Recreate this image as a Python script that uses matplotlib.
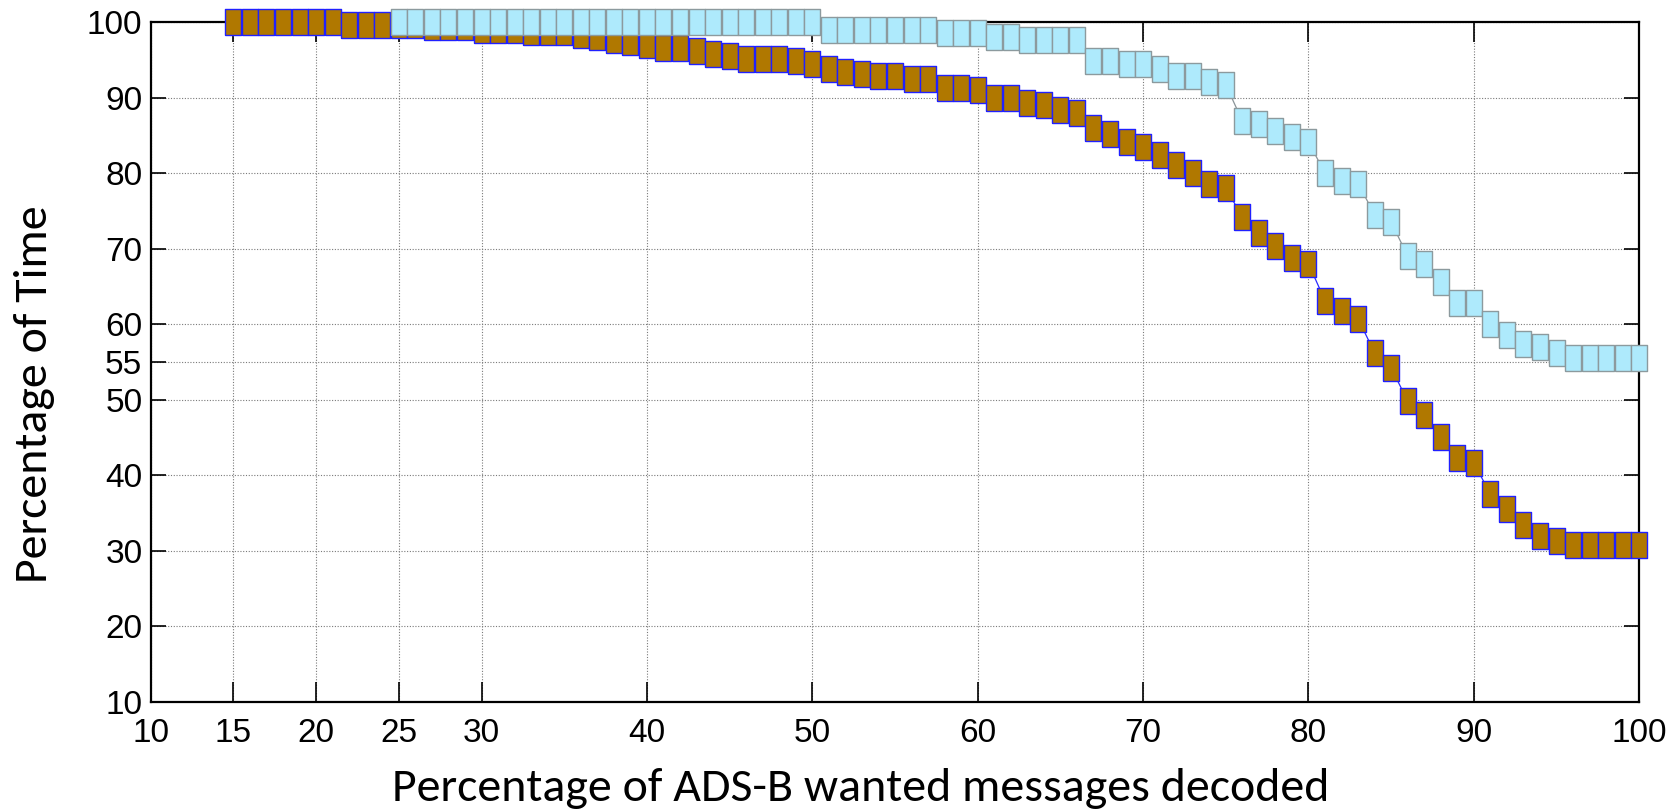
import matplotlib
matplotlib.use("Agg")
import matplotlib.pyplot as plt
from matplotlib import font_manager

# ---------------- data ----------------
x_brown = list(range(15, 101))
y_brown = [100, 100, 100, 100, 100, 100, 100,          # 15-21
           99.6, 99.6, 99.6, 99.6, 99.6,               # 22-26
           99.3, 99.3, 99.3,                           # 27-29
           99.0, 99.0, 99.0,                           # 30-32
           98.7, 98.7, 98.7,                           # 33-35
           98.3, 98.0, 97.6, 97.3, 96.9,               # 36-40
           96.6, 96.6, 96.2, 95.8, 95.5,               # 41-45
           95.1, 95.1, 95.1, 94.8, 94.4,               # 46-50
           93.8, 93.4, 93.1, 92.8, 92.8,               # 51-55
           92.4, 92.4, 91.3, 91.3, 91.0,               # 56-60
           90.0, 90.0, 89.3, 89.0, 88.3,               # 61-65
           88.0, 85.9, 85.2, 84.1, 83.5,               # 66-70
           82.4, 81.1, 80.0, 78.6, 78.0,               # 71-75
           74.2, 72.1, 70.4, 68.7, 68.0,               # 76-80
           63.1, 61.7, 60.7, 56.2, 54.2,               # 81-85
           49.8, 48.0, 45.0, 42.2, 41.6,               # 86-90
           37.5, 35.5, 33.4, 32.0, 31.3,               # 91-95
           30.7, 30.7, 30.7, 30.7, 30.7]               # 96-100

x_blue = list(range(25, 101))
y_blue = [100, 100, 100, 100, 100, 100, 100, 100, 100, 100,   # 25-34
          100, 100, 100, 100, 100, 100, 100, 100, 100, 100,   # 35-44
          100, 100, 100, 100, 100, 100,                       # 45-50
          99.0, 99.0, 99.0, 99.0, 99.0, 99.0, 99.0,           # 51-57
          98.6, 98.6, 98.6,                                   # 58-60
          98.0, 98.0,                                         # 61-62
          97.6, 97.6, 97.6, 97.6,                             # 63-66
          94.8, 94.8, 94.4, 94.4, 93.8,                       # 67-71
          92.8, 92.8, 92.0, 91.7,                             # 72-75
          86.9, 86.5, 85.5, 84.8, 84.1,                       # 76-80
          80.0, 79.0, 78.6, 74.5, 73.5,                       # 81-85
          69.0, 68.0, 65.6, 62.8, 62.8,                       # 86-90
          60.0, 58.6, 57.3, 56.9, 56.2,                       # 91-95
          55.5, 55.5, 55.5, 55.5, 55.5]                       # 96-100

x_ticks = [10, 15, 20, 25, 30, 40, 50, 60, 70, 80, 90, 100]
y_ticks = [10, 20, 30, 40, 50, 55, 60, 70, 80, 90, 100]

x_label = "Percentage of ADS-B wanted messages decoded"
y_label = "Percentage of Time"

# ---------------- fonts ----------------
def pick(names):
    for n in names:
        try:
            font_manager.findfont(n, fallback_to_default=False)
            return n
        except Exception:
            pass
    return "DejaVu Sans"

tick_font = pick(["Liberation Sans Narrow", "Liberation Sans", "DejaVu Sans"])
label_font = pick(["Carlito", "Lato", "Open Sans", "DejaVu Sans"])

# ---------------- figure ----------------
fig = plt.figure(figsize=(16.71, 8.11), dpi=100)
ax = fig.add_axes([0.0902, 0.1348, 0.8908, 0.8381])

rect = [(-0.64, -1), (0.64, -1), (0.64, 1), (-0.64, 1), (-0.64, -1)]

ax.plot(x_brown, y_brown, color="#2a2aff", lw=0.9,
        marker=rect, markersize=18.2, markerfacecolor="#b07800",
        markeredgecolor="#2020ff", markeredgewidth=1.0, zorder=3,
        clip_on=False)
ax.plot(x_blue, y_blue, color="#8a9498", lw=0.9,
        marker=rect, markersize=18.2, markerfacecolor="#aeeafc",
        markeredgecolor="#8c9a9e", markeredgewidth=1.0, zorder=4,
        clip_on=False)

ax.set_xlim(10, 100)
ax.set_ylim(10, 100)
ax.set_xticks(x_ticks)
ax.set_yticks(y_ticks)
ax.set_xticklabels([str(v) for v in x_ticks], fontsize=24, family=tick_font)
ax.set_yticklabels([str(v) for v in y_ticks], fontsize=24, family=tick_font)

ax.tick_params(axis="both", direction="in", top=True, right=True,
               color="black", width=1.2)
ax.tick_params(axis="x", length=14.5, pad=12)
ax.tick_params(axis="y", length=11, pad=6)

ax.grid(True, color="#7a7a7a", linestyle=(0, (1, 1.5)), linewidth=0.8, zorder=1)
ax.set_axisbelow(True)

for s in ax.spines.values():
    s.set_linewidth(1.6)
    s.set_color("black")
    s.set_zorder(2)

ax.set_xlabel(x_label, fontsize=34.5, family=label_font)
ax.set_ylabel(y_label, fontsize=34.5, family=label_font)
ax.xaxis.set_label_coords(0.477, -0.128)
ax.yaxis.set_label_coords(-0.0784, 0.453)
ax.xaxis.label.set_va("center")
ax.yaxis.label.set_va("center")

fig.savefig("out.png", dpi=100)
